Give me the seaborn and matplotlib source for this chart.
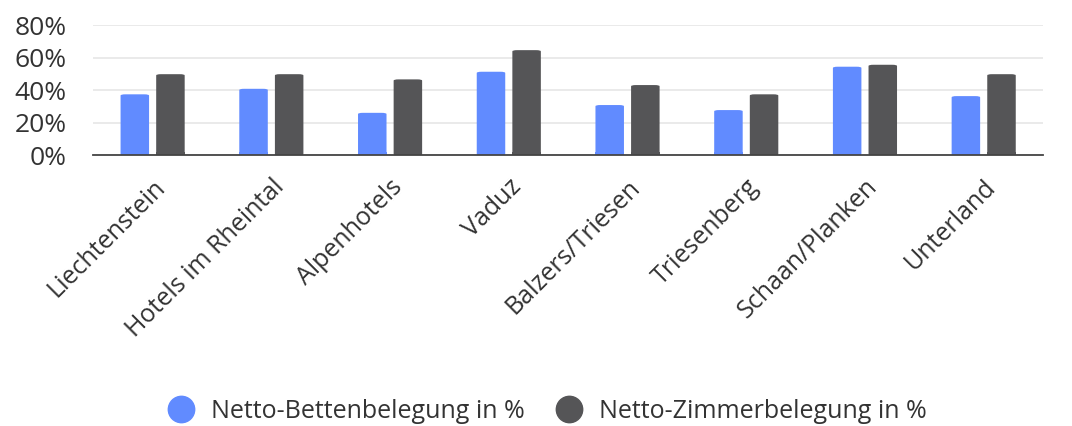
import pandas as pd
import matplotlib.pyplot as plt
import seaborn as sns
from matplotlib.lines import Line2D
from matplotlib.patches import FancyBboxPatch

categories = ['Liechtenstein', 'Hotels im Rheintal', 'Alpenhotels', 'Vaduz',
              'Balzers/Triesen', 'Triesenberg', 'Schaan/Planken', 'Unterland']
betten = [37.4, 40.8, 26.0, 51.3, 30.8, 27.7, 54.4, 36.3]
zimmer = [49.8, 49.8, 46.6, 64.6, 43.1, 37.4, 55.6, 49.8]
series_names = ['Netto-Bettenbelegung in %', 'Netto-Zimmerbelegung in %']
colors = ['#618bff', '#555557']
y_ticks = [0, 20, 40, 60, 80]

df = pd.DataFrame({
    'Kategorie': categories * 2,
    'Serie': [series_names[0]] * len(categories) + [series_names[1]] * len(categories),
    'Wert': betten + zimmer,
})

sns.set_style('white')
plt.rcParams['font.family'] = ['Open Sans', 'DejaVu Sans']

fig = plt.figure(figsize=(10.72, 4.26), dpi=100)
ax = fig.add_axes([0.087, 0.636, 0.886, 0.305])

sns.barplot(data=df, x='Kategorie', y='Wert', hue='Serie', palette=colors,
            width=0.6, gap=0.2, saturation=1, linewidth=0, ax=ax,
            legend=False, zorder=3)

# round off the bar tops a little
for bar in list(ax.patches):
    x, w, h = bar.get_x(), bar.get_width(), bar.get_height()
    if h <= 0:
        continue
    rounded = FancyBboxPatch((x, 0), w, h, boxstyle='round,pad=0,rounding_size=0.04',
                             mutation_aspect=18, facecolor=bar.get_facecolor(),
                             edgecolor='none', zorder=3)
    bar.remove()
    ax.add_patch(rounded)
    ax.add_patch(plt.Rectangle((x, 0), w, min(h, 2), facecolor=rounded.get_facecolor(),
                               edgecolor='none', zorder=3))

ax.set_xlim(-0.5, len(categories) - 0.5)
ax.set_ylim(0, 80)
ax.set_yticks(y_ticks)
ax.set_yticklabels([f'{v}%' for v in y_ticks], fontsize=19, color='#333333')
ax.yaxis.grid(True, color='#e6e6e6', linewidth=1.2, zorder=0)
ax.set_axisbelow(True)
for s in ['top', 'right', 'left']:
    ax.spines[s].set_visible(False)
ax.spines['bottom'].set_color('#444444')
ax.spines['bottom'].set_linewidth(1.3)
ax.spines['bottom'].set_zorder(4)
ax.tick_params(axis='both', length=0)
ax.tick_params(axis='y', pad=19)
ax.set_xlabel('')
ax.set_ylabel('')
ax.set_xticks(range(len(categories)))
ax.set_xticklabels(categories, rotation=45, ha='right', rotation_mode='anchor',
                   fontsize=18, color='#333333')
ax.tick_params(axis='x', pad=14)

handles = [Line2D([0], [0], marker='o', linestyle='', markersize=19,
                  markerfacecolor=c, markeredgecolor=c) for c in colors]
fig.legend(handles, series_names, loc='center', bbox_to_anchor=(0.505, 0.035),
           ncol=2, frameon=False, fontsize=18, handletextpad=0.2,
           columnspacing=0.8, labelcolor='#333333')

fig.savefig('out.png', dpi=100)
